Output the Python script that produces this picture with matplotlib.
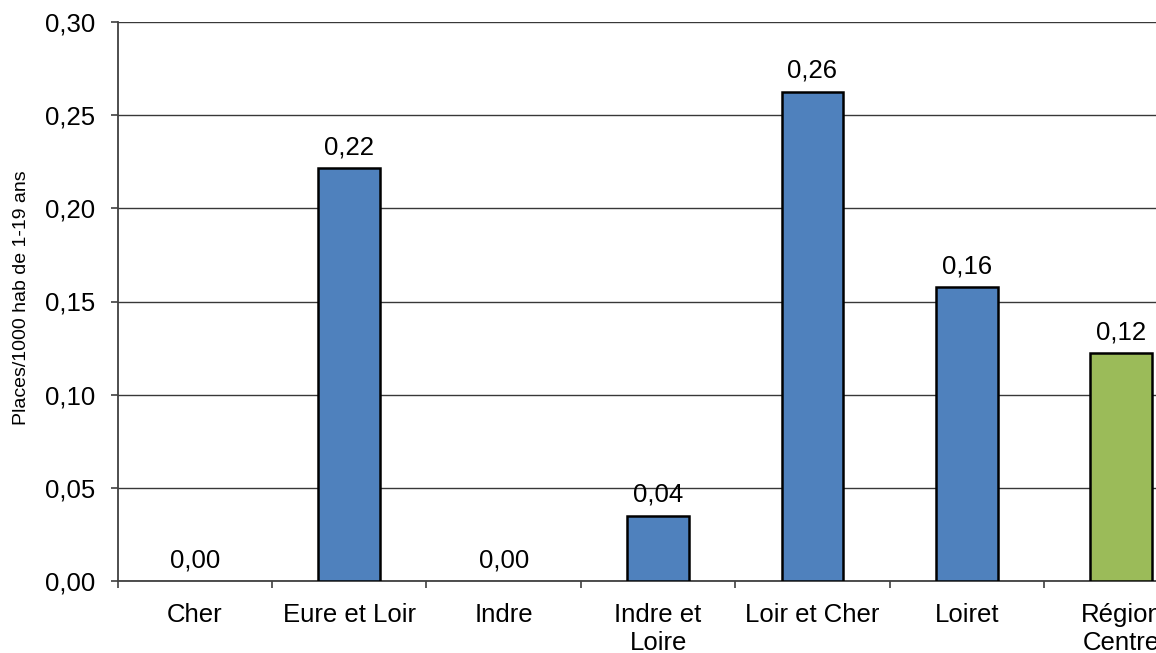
import matplotlib
matplotlib.use("Agg")
import matplotlib.pyplot as plt
import numpy as np

categories = ["Cher", "Eure et Loir", "Indre", "Indre et\nLoire", "Loir et Cher", "Loiret", "Région\nCentre"]
values = [0.0, 0.2217, 0.0, 0.0350, 0.2625, 0.1578, 0.1224]
bar_colors = ["#4F81BD"] * 6 + ["#9BBB59"]
yticks = [0.0, 0.05, 0.10, 0.15, 0.20, 0.25, 0.30]
ylabel = "Places/1000 hab de 1-19 ans"

plt.rcParams['font.family'] = ['Liberation Sans', 'DejaVu Sans']

W, H = 1156, 653
fig = plt.figure(figsize=(W / 100, H / 100), dpi=100)
left = 117.7 / W
right_px = 117.7 + 7 * 154.4
bottom = (H - 581) / H
top = (H - 22) / H
ax = fig.add_axes([left, bottom, (right_px - 117.7) / W, top - bottom])

FS = 18.5
x = np.arange(len(categories))
edges = ["black" if v > 0 else "none" for v in values]
ax.bar(x, values, width=0.4, color=bar_colors, edgecolor=edges, linewidth=1.8, zorder=3)

ax.set_xlim(-0.5, len(categories) - 0.5)
ax.set_ylim(0, 0.30)
ax.set_yticks(yticks)
ax.set_yticklabels([f"{v:.2f}".replace(".", ",") for v in yticks], fontsize=FS)
ax.yaxis.grid(True, color="#383838", linewidth=1.0, zorder=0)
ax.set_axisbelow(True)

ax.set_xticks(x)
ax.set_xticklabels(categories, fontsize=FS, linespacing=1.22)
ax.tick_params(axis="x", which="major", length=0, pad=15.5)
ax.set_xticks(np.arange(-0.5, len(categories), 1.0), minor=True)
ax.tick_params(axis="x", which="minor", length=5, width=1.2, color="#404040", direction="out")
ax.tick_params(axis="y", length=5, width=1.2, color="#404040", direction="out", pad=11)

for s in ["top", "right"]:
    ax.spines[s].set_visible(False)
for s in ["left", "bottom"]:
    ax.spines[s].set_color("#404040")
    ax.spines[s].set_linewidth(1.3)

for xi, v in zip(x, values):
    ax.annotate(f"{v:.2f}".replace(".", ","), (xi, v), xytext=(0, 10), textcoords="offset points",
                ha="center", va="baseline", fontsize=FS, color="black")

fig.text(22 / W, (H - 298) / H, ylabel, rotation=90, ha="center", va="center", fontsize=14)

fig.savefig("out.png", dpi=100)
